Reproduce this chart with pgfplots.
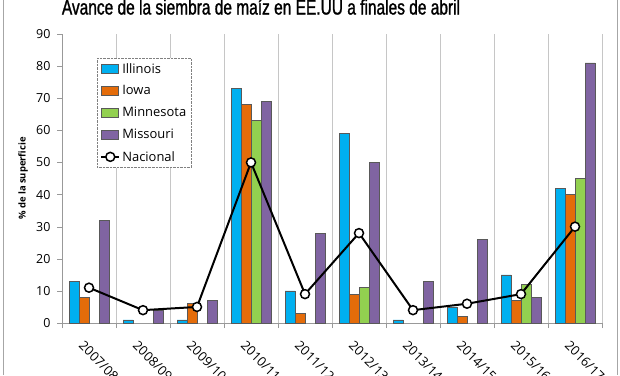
\documentclass[border=0pt]{standalone}
\usepackage{fontspec}
\setmainfont{Open Sans}
\newfontfamily\titlefont[FakeStretch=0.74, FakeBold=1.2]{Liberation Sans}
\usepackage{pgfplots}
\pgfplotsset{compat=1.18}
\definecolor{cIL}{RGB}{0,176,240}
\definecolor{cIA}{RGB}{228,108,10}
\definecolor{cMN}{RGB}{146,208,80}
\definecolor{cMO}{RGB}{128,100,162}
\pgfplotsset{
  barleg/.style={legend image code/.code={\draw[##1, solid] (0bp,-4.5bp) rectangle (17bp,4.5bp);}},
  lineleg/.style={legend image code/.code={\draw[##1, solid, mark repeat=2, mark phase=2] plot coordinates {(0bp,0bp) (9bp,0bp) (18bp,0bp)};}},
}
\pgfplotstableread{
x IL IA MN MO NAT
0 13 8 nan 32 11
1 1 nan nan 4 4
2 1 6 nan 7 5
3 73 68 63 69 50
4 10 3 nan 28 9
5 59 9 11 50 28
6 1 nan nan 13 4
7 5 2 nan 26 6
8 15 7 12 8 9
9 42 40 45 81 30
}\data
\begin{document}
\begin{tikzpicture}[x=1bp,y=1bp]
\useasboundingbox (0,0) rectangle (620,375);
\draw[gray!70, line width=1pt] (3,0) -- (3,375);
\draw[gray!70, line width=1pt] (617,0) -- (617,375);
\node[font=\titlefont\fontsize{21}{24}\selectfont, anchor=base] at (261,360.5) {Avance de la siembra de maíz en EE.UU a finales de abril};
\begin{axis}[
  at={(62bp,52bp)}, anchor=south west,
  width=540bp, height=289bp, scale only axis,
  xmin=-0.5, xmax=9.5, ymin=0, ymax=90,
  axis x line*=bottom, axis y line*=left,
  axis line style={-, draw=gray!80},
  ytick={0,10,...,90},
  xtick={0,...,9},
  xticklabels={2007/08,2008/09,2009/10,2010/11,2011/12,2012/13,2013/14,2014/15,2015/16,2016/17},
  minor xtick={-0.5,0.5,...,9.5},
  xminorgrids=true,
  minor x grid style={gray!45, line width=0.8pt},
  tick align=outside,
  major tick length=5bp, minor tick length=5bp,
  x tick style={draw=none},
  minor x tick style={draw=gray!80},
  y tick style={draw=gray!80},
  tick label style={font=\fontsize{12.5}{14}\selectfont},
  yticklabel style={xshift=-3bp},
  /pgf/number format/assume math mode=true,
  xticklabel style={font=\fontsize{13}{15}\selectfont, rotate=-45, anchor=north west, xshift=2bp, yshift=-8bp},
  ylabel={\% de la superficie},
  ylabel style={font=\bfseries\fontsize{9.5}{11}\selectfont, at={(axis description cs:-0.072,0.5)}, anchor=center, rotate=0},
  legend style={at={(axis description cs:0.065,0.917)}, anchor=north west,
    draw=gray, densely dotted, font=\fontsize{13}{15}\selectfont,
    row sep=7bp, inner xsep=3bp, inner ysep=3bp, cells={anchor=west}},
  legend cell align=left,
]
\addplot[ybar, bar width=10bp, bar shift=-15bp, fill=cIL, draw=black!65, line width=0.5pt, barleg] table[x=x,y=IL] {\data};
\addlegendentry{Illinois}
\addplot[ybar, bar width=10bp, bar shift=-5bp, fill=cIA, draw=black!65, line width=0.5pt, barleg] table[x=x,y=IA] {\data};
\addlegendentry{Iowa}
\addplot[ybar, bar width=10bp, bar shift=5bp, fill=cMN, draw=black!65, line width=0.5pt, barleg] table[x=x,y=MN] {\data};
\addlegendentry{Minnesota}
\addplot[ybar, bar width=10bp, bar shift=15bp, fill=cMO, draw=black!65, line width=0.5pt, barleg] table[x=x,y=MO] {\data};
\addlegendentry{Missouri}
\addplot[black, line width=2pt, mark=*, mark size=4.5bp, mark options={fill=white, draw=black, line width=1.5pt, solid}, lineleg] table[x=x,y=NAT] {\data};
\addlegendentry{Nacional}
\end{axis}
\end{tikzpicture}
\end{document}
